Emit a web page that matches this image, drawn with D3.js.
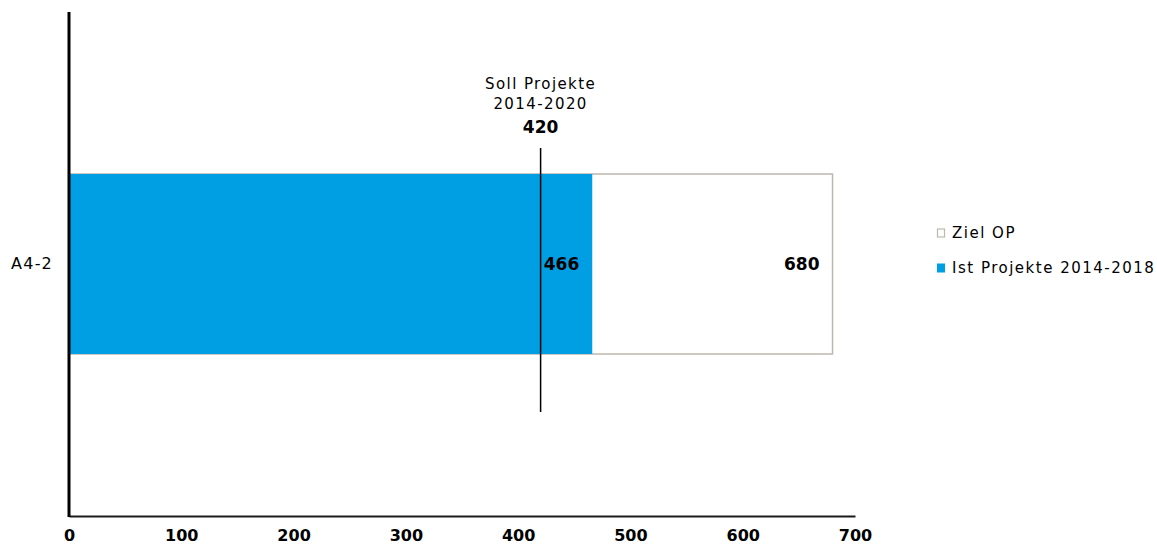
<!DOCTYPE html>
<html>
<head>
<meta charset="utf-8">
<script src="https://cdn.jsdelivr.net/npm/d3@7"></script>
<style>
  html, body { margin: 0; padding: 0; background: #fff; }
  svg text { font-family: "DejaVu Sans", Verdana, sans-serif; fill: #000; }
</style>
</head>
<body>
<svg id="chart" width="1157" height="545"></svg>
<script>
// Indicator categories and values
const categories = ["A4-2"];
const zielOP = [680];              // target of the operational programme
const istProjekte = [466];         // actual projects 2014-2018
const sollProjekte = 420;          // planned projects 2014-2020 (reference line)
const xTicks = [0, 100, 200, 300, 400, 500, 600, 700];
const legendItems = ["Ziel OP", "Ist Projekte 2014-2018"];
const sollLabel = ["Soll Projekte", "2014-2020"];

const FONT = '"DejaVu Sans", Verdana, sans-serif';
const svg = d3.select("#chart");

const x = d3.scaleLinear().domain([0, 700]).range([69, 855]);
const y = d3.scaleBand().domain(categories).range([12, 516]).paddingInner(0).paddingOuter(0.9);

const blue = "#009FE3";
const grey = "#bdb8ae";

// Target bars (white with grey outline)
svg.selectAll("rect.ziel").data(categories).join("rect")
  .attr("class", "ziel")
  .attr("x", x(0))
  .attr("y", d => y(d))
  .attr("width", (d, i) => x(zielOP[i]) - x(0))
  .attr("height", y.bandwidth())
  .attr("fill", "#fff")
  .attr("stroke", grey)
  .attr("stroke-width", 1.5);

// Actual bars
svg.selectAll("rect.ist").data(categories).join("rect")
  .attr("class", "ist")
  .attr("x", x(0))
  .attr("y", d => y(d))
  .attr("width", (d, i) => x(istProjekte[i]) - x(0))
  .attr("height", y.bandwidth())
  .attr("fill", blue);

// Value labels
svg.selectAll("text.ziel-val").data(categories).join("text")
  .attr("class", "ziel-val")
  .attr("x", (d, i) => x(zielOP[i]) - 13)
  .attr("y", d => y(d) + y.bandwidth() / 2)
  .attr("dy", "0.36em")
  .attr("text-anchor", "end")
  .attr("font-size", 17)
  .attr("font-weight", "bold")
  .text((d, i) => zielOP[i]);

svg.selectAll("text.ist-val").data(categories).join("text")
  .attr("class", "ist-val")
  .attr("x", (d, i) => x(istProjekte[i]) - 13)
  .attr("y", d => y(d) + y.bandwidth() / 2)
  .attr("dy", "0.36em")
  .attr("text-anchor", "end")
  .attr("font-size", 17)
  .attr("font-weight", "bold")
  .text((d, i) => istProjekte[i]);

// Planned-value reference line
const sx = x(sollProjekte);
svg.append("line")
  .attr("x1", sx).attr("x2", sx)
  .attr("y1", y(categories[0]) - 26)
  .attr("y2", y(categories[0]) + y.bandwidth() + 58)
  .attr("stroke", "#000").attr("stroke-width", 1.5);

const sollText = svg.append("text")
  .attr("text-anchor", "middle")
  .attr("font-size", 15)
  .attr("letter-spacing", 1.4);
sollLabel.forEach((t, i) => {
  sollText.append("tspan").attr("x", sx).attr("y", 89 + i * 20).text(t);
});
sollText.append("tspan").attr("x", sx).attr("y", 133)
  .attr("font-weight", "bold").attr("font-size", 17).attr("letter-spacing", 0).text(sollProjekte);

// X axis
const xAxis = d3.axisBottom(x).tickValues(xTicks).tickSize(0).tickPadding(14).tickFormat(d3.format("d"));
const gx = svg.append("g").attr("transform", "translate(0,516)").call(xAxis);
gx.select(".domain").attr("stroke", "#1a1a1a").attr("stroke-width", 2.2);
gx.selectAll("text").attr("font-size", 16).attr("font-weight", "bold")
  .style("font-family", FONT).attr("fill", "#000");

// Y axis
const yAxis = d3.axisLeft(y).tickSize(0).tickPadding(16);
const gy = svg.append("g").attr("transform", "translate(69,0)").call(yAxis);
gy.select(".domain").attr("stroke", "#000").attr("stroke-width", 3)
  .attr("d", "M0,12V517");
gy.selectAll("text").attr("font-size", 16).attr("letter-spacing", 1.2)
  .style("font-family", FONT).attr("fill", "#000");

// Legend
const legend = svg.append("g").attr("transform", "translate(937,0)");
const legY = [233, 268];
legendItems.forEach((name, i) => {
  const g = legend.append("g").attr("transform", `translate(0,${legY[i]})`);
  if (i === 0) {
    g.append("rect").attr("x", 0.5).attr("y", -4).attr("width", 7).attr("height", 8)
      .attr("fill", "#fff").attr("stroke", grey).attr("stroke-width", 1.2);
  } else {
    g.append("rect").attr("x", 0).attr("y", -4.5).attr("width", 8).attr("height", 9)
      .attr("fill", blue);
  }
  g.append("text").attr("x", 15).attr("dy", "0.36em").attr("font-size", 15)
    .attr("letter-spacing", 1.5).text(name);
});
</script>
</body>
</html>
